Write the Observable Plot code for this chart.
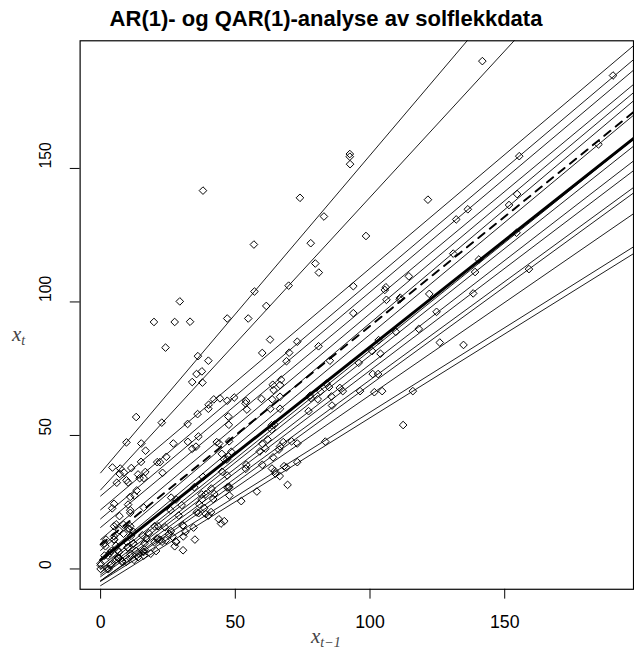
<!DOCTYPE html>
<html><head><meta charset="utf-8">
<script src="https://cdn.jsdelivr.net/npm/d3@7"></script>
<script src="https://cdn.jsdelivr.net/npm/@observablehq/plot@0.6"></script>
<style>
body{margin:0;background:#fff;}
#wrap{position:relative;width:634px;height:654px;overflow:hidden;background:#fff;font-family:"Liberation Sans",Arial,sans-serif;}
#chart{position:absolute;left:0;top:0;}
#title{position:absolute;left:0;width:652px;top:6px;text-align:center;font-weight:bold;font-size:22px;color:#000;}
.mlab{position:absolute;font-family:"Liberation Serif","DejaVu Serif",serif;color:#444;white-space:nowrap;line-height:1;}
.mlab i{font-size:21px;}
.mlab sub{font-size:14px;font-style:italic;vertical-align:-4px;}
</style></head><body>
<div id="wrap">
  <div id="chart"></div>
  <div id="title">AR(1)- og QAR(1)-analyse av solflekkdata</div>
  <div class="mlab" id="ylab" style="left:12px;top:324px;"><i>x</i><sub>t</sub></div>
  <div class="mlab" id="xlab" style="left:311px;top:626px;"><i>x</i><sub>t−1</sub></div>
</div>
<script>
// Yearly sunspot numbers 1700–1988
const startYear = 1700;
const sunspots = [
5,11,16,23,36,58,29,20,10,8,3,0,0,2,11,27,47,63,60,39,
28,26,22,11,21,40,78,122,103,73,47,35,11,5,16,34,70,81,111,101,
73,40,20,16,5,11,22,40,60,80.9,83.4,47.7,47.8,30.7,12.2,9.6,10.2,32.4,47.6,54,
62.9,85.9,61.2,45.1,36.4,20.9,11.4,37.8,69.8,106.1,100.8,81.6,66.5,34.8,30.6,7,19.8,92.5,154.4,125.9,
84.8,68.1,38.5,22.8,10.2,24.1,82.9,132,130.9,118.1,89.9,66.6,60,46.9,41,21.3,16,6.4,4.1,6.8,
14.5,34,45,43.1,47.5,42.2,28.1,10.1,8.1,2.5,0,1.4,5,12.2,13.9,35.4,45.8,41.1,30.1,23.9,
15.6,6.6,4,1.8,8.5,16.6,36.3,49.6,64.2,67,70.9,47.8,27.5,8.5,13.2,56.9,121.5,138.3,103.2,85.7,
64.6,36.7,24.2,10.7,15,40.1,61.5,98.5,124.7,96.3,66.6,64.5,54.1,39,20.6,6.7,4.3,22.7,54.8,93.8,
95.8,77.2,59.1,44,47,30.5,16.3,7.3,37.6,74,139,111.2,101.6,66.2,44.7,17,11.3,12.4,3.4,6,
32.3,54.3,59.7,63.7,63.5,52.2,25.4,13.1,6.8,6.3,7.1,35.6,73,85.1,78,64,41.8,26.2,26.7,12.1,
9.5,2.7,5,24.4,42,63.5,53.8,62,48.5,43.9,18.6,5.7,3.6,1.4,9.6,47.4,57.1,103.9,80.6,63.6,
37.6,26.1,14.2,5.8,16.7,44.3,63.9,69,77.8,64.9,35.7,21.2,11.1,5.7,8.7,36.1,79.7,114.4,109.6,88.8,
67.8,47.5,30.6,16.3,9.6,33.2,92.6,151.6,136.3,134.7,83.9,69.4,31.5,13.9,4.4,38,141.7,190.2,184.8,159,
112.3,53.9,37.5,27.9,10.2,15.1,47,93.8,105.9,105.5,104.5,66.6,68.9,38,34.5,15.5,12.6,27.5,92.5,155.4,
154.6,140.4,115.9,66.6,45.9,17.9,13.4,29.4,100.2
];
const quantileLevels = [0.05,0.1,0.15,0.2,0.25,0.3,0.35,0.4,0.45,0.5,0.55,0.6,0.65,0.7,0.75,0.8,0.85,0.9,0.95];
const medianLevel = 0.5;
const xTicks = [0, 50, 100, 150];
const yTicks = [0, 50, 100, 150];
const lineSpan = [0, 200];

// lag pairs (x_{t-1}, x_t)
const pairs = sunspots.slice(1).map((v, i) => ({prev: sunspots[i], cur: v, year: startYear + i + 1}));
const X = pairs.map(d => d.prev), Y = pairs.map(d => d.cur);

// quantile regression (intercept + slope) via convex search over slope
function rq(tau) {
  const n = X.length, k = Math.max(0, Math.ceil(n * tau) - 1);
  function obj(b) {
    const r = Y.map((y, i) => y - b * X[i]).sort((p, q) => p - q);
    const a = r[k];
    let s = 0;
    for (const v of r) { const u = v - a; s += u >= 0 ? tau * u : (tau - 1) * u; }
    return {s, a};
  }
  let lo = -2, hi = 5;
  for (let it = 0; it < 200; it++) {
    const m1 = lo + (hi - lo) / 3, m2 = hi - (hi - lo) / 3;
    if (obj(m1).s <= obj(m2).s) hi = m2; else lo = m1;
  }
  const b = (lo + hi) / 2;
  return {a: obj(b).a, b};
}
function ols() {
  const mx = d3.mean(X), my = d3.mean(Y);
  const b = d3.sum(X, (x, i) => (x - mx) * (Y[i] - my)) / d3.sum(X, x => (x - mx) ** 2);
  return {a: my - b * mx, b};
}
const fitLine = (f, id) => lineSpan.map(x => ({x, y: f.a + f.b * x, id}));
const qrLines = quantileLevels.flatMap(t => fitLine(rq(t), t));
const medLine = fitLine(rq(medianLevel), "median");
const olsLine = fitLine(ols(), "ols");

const ext = d3.extent(sunspots), pad = (ext[1] - ext[0]) * 0.04;
const dom = [ext[0] - pad, ext[1] + pad];

const chart = Plot.plot({
  width: 645, height: 654,
  marginLeft: 81, marginRight: 1, marginTop: 41, marginBottom: 55,
  x: {domain: dom, axis: null},
  y: {domain: dom, axis: null},
  style: {fontFamily: "'Liberation Sans', Arial, sans-serif", color: "black", background: "white"},
  marks: [
    Plot.line(qrLines, {x: "x", y: "y", z: "id", stroke: "black", strokeWidth: 0.9, clip: true}),
    Plot.line(olsLine, {x: "x", y: "y", stroke: "black", strokeWidth: 2, strokeDasharray: "8,7", clip: true}),
    Plot.line(medLine, {x: "x", y: "y", stroke: "black", strokeWidth: 3, clip: true}),
    Plot.dot(pairs, {x: "prev", y: "cur", symbol: "diamond2", r: 3.5, stroke: "black", strokeWidth: 1}),
    Plot.frame({stroke: "black", strokeWidth: 1.2}),
    Plot.axisX(xTicks, {anchor: "bottom", tickSize: 10, tickFormat: () => "", stroke: "black"}),
    Plot.axisY(yTicks, {anchor: "left", tickSize: 10, tickFormat: () => "", stroke: "black"}),
    Plot.text(xTicks, {x: d => d, frameAnchor: "bottom", dy: 34, text: d => String(d), fontSize: 18, lineAnchor: "middle", fill: "black"}),
    Plot.text(yTicks, {y: d => d, frameAnchor: "left", dx: -35, rotate: -90, text: d => String(d), fontSize: 16, lineAnchor: "middle", fill: "black"})
  ]
});
document.getElementById("chart").appendChild(chart);
</script>
</body></html>
